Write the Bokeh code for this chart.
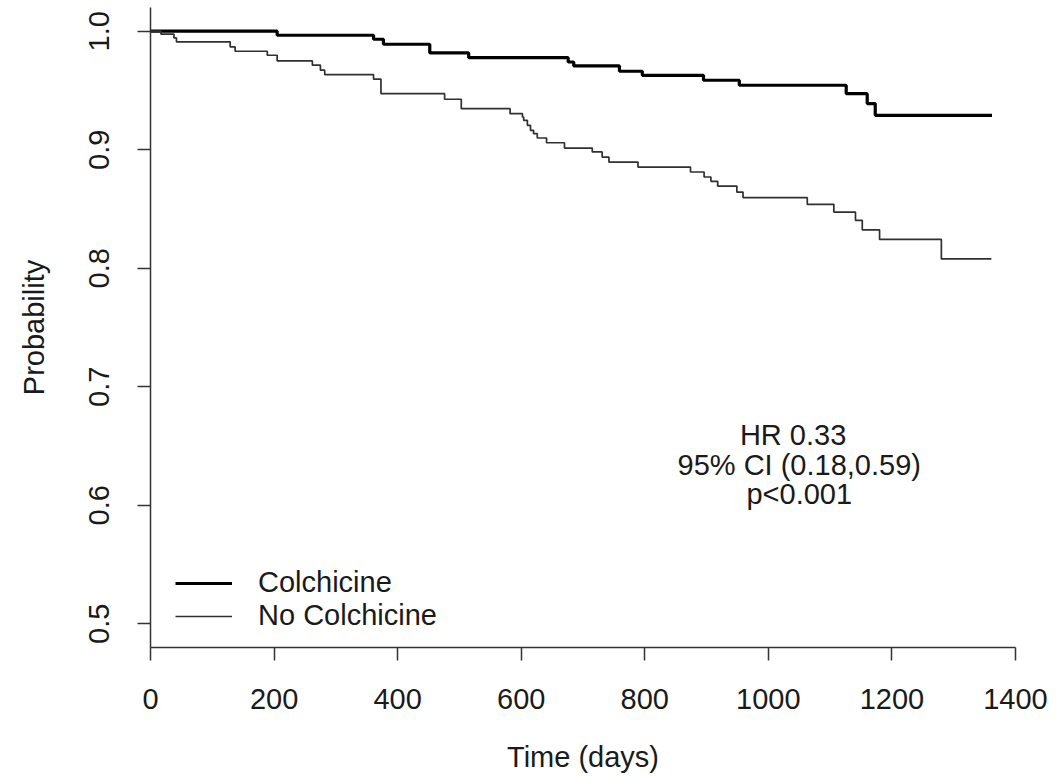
from bokeh.plotting import figure
from bokeh.models import Range1d, FixedTicker, Legend, LegendItem
from bokeh.core.properties import value
from bokeh.embed import file_html
from bokeh.resources import INLINE

# ---- data ----
colch_days = [0, 205, 361, 377, 452, 515, 676, 685, 759, 796, 895, 953, 1126, 1160, 1173, 1362]
colch_surv = [1.0, 0.9966, 0.9932, 0.9890, 0.9817, 0.9777, 0.9740, 0.9707, 0.9662, 0.9628,
              0.9586, 0.9544, 0.9473, 0.9389, 0.9290, 0.9290]

nocol_days = [0, 17, 38, 42, 129, 137, 189, 205, 262, 275, 282, 361, 373, 476, 503, 582, 602,
              604, 610, 615, 620, 626, 641, 670, 715, 731, 742, 789, 874, 896, 907, 918, 949,
              959, 1063, 1106, 1141, 1152, 1180, 1280, 1361]
nocol_surv = [1.0, 0.9975, 0.9943, 0.9910, 0.9867, 0.9831, 0.9797, 0.9749, 0.9713, 0.9671,
              0.9633, 0.9595, 0.9473, 0.9426, 0.9346, 0.9304, 0.9276, 0.9248, 0.9206, 0.9164,
              0.9135, 0.9099, 0.9059, 0.9014, 0.8981, 0.8938, 0.8896, 0.8854, 0.8812, 0.8770,
              0.8733, 0.8693, 0.8643, 0.8595, 0.8539, 0.8474, 0.8404, 0.8324, 0.8243, 0.8079,
              0.8079]

x_ticks = [0, 200, 400, 600, 800, 1000, 1200, 1400]
x_tick_labels = ["0", "200", "400", "600", "800", "1000", "1200", "1400"]
y_ticks = [0.5, 0.6, 0.7, 0.8, 0.9, 1.0]
y_tick_labels = ["0.5", "0.6", "0.7", "0.8", "0.9", "1.0"]

series_names = ["Colchicine", "No Colchicine"]
annotation_lines = ["HR 0.33", "95% CI (0.18,0.59)", "p<0.001"]
x_title = "Time (days)"
y_title = "Probability"

FONT = "Liberation Sans"
INK = "#1a1a1a"
FS = "29px"

p = figure(width=1064, height=776, output_backend="svg", toolbar_location=None,
           x_range=Range1d(0, 1400), y_range=Range1d(0.48, 1.02),
           min_border_left=150, min_border_right=49, min_border_top=7, min_border_bottom=129)
p.outline_line_color = None
p.xgrid.visible = False
p.ygrid.visible = False
p.background_fill_color = "white"
p.border_fill_color = "white"

r1 = p.step(colch_days, colch_surv, mode="after", line_color="#000000", line_width=3.2)
r2 = p.step(nocol_days, nocol_surv, mode="after", line_color="#303030", line_width=1.7)

for ax in (p.xaxis[0], p.yaxis[0]):
    ax.axis_line_color = "#333333"
    ax.axis_line_width = 1.5
    ax.major_tick_line_color = "#333333"
    ax.major_tick_line_width = 1.5
    ax.major_tick_out = 13
    ax.major_tick_in = 0
    ax.minor_tick_out = 0
    ax.minor_tick_in = 0
    ax.major_label_text_font = FONT
    ax.major_label_text_font_size = FS
    ax.major_label_text_color = INK
    ax.axis_label_text_font = FONT
    ax.axis_label_text_font_size = FS
    ax.axis_label_text_font_style = "normal"
    ax.axis_label_text_color = INK

p.xaxis[0].ticker = FixedTicker(ticks=x_ticks)
p.xaxis[0].major_label_overrides = {t: l for t, l in zip(x_ticks, x_tick_labels)}
p.xaxis[0].major_label_standoff = 28
p.xaxis[0].axis_label = x_title
p.xaxis[0].axis_label_standoff = 29

p.yaxis[0].ticker = FixedTicker(ticks=y_ticks)
p.yaxis[0].major_label_overrides = {t: l for t, l in zip(y_ticks, y_tick_labels)}
p.yaxis[0].major_label_orientation = "vertical"
p.yaxis[0].major_label_standoff = 28
p.yaxis[0].axis_label = y_title
p.yaxis[0].axis_label_standoff = 37

# annotation text block
ann_x = [1040, 1050, 1050]
ann_y = [0.6596, 0.6343, 0.6098]
p.text(x=ann_x, y=ann_y, text=annotation_lines, text_align="center",
       text_baseline="middle", text_font=value(FONT), text_font_size=FS, text_color=INK)

legend = Legend(items=[LegendItem(label=series_names[0], renderers=[r1]),
                       LegendItem(label=series_names[1], renderers=[r2])],
                location=(25, 15), label_text_font=FONT, label_text_font_size=FS,
                label_text_color=INK, glyph_width=57, glyph_height=30, label_height=30,
                spacing=0, padding=0, margin=0, label_standoff=26,
                border_line_color=None, background_fill_alpha=0)
p.add_layout(legend, "center")

open("out.html", "w").write(file_html(p, INLINE))
